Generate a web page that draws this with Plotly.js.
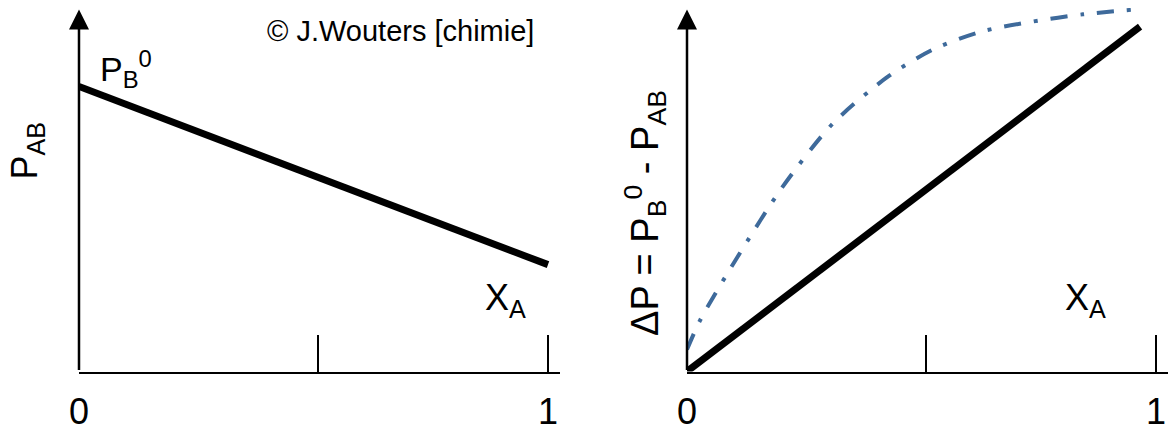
<!DOCTYPE html>
<html>
<head>
<meta charset="utf-8">
<script src="https://cdn.plot.ly/plotly-3.0.1.min.js"></script>
<style>html,body{margin:0;padding:0;background:#fff;}#chart{width:1171px;height:429px;}</style>
</head>
<body>
<div id="chart"></div>
<script>
// Left panel: P_AB vs X_A (straight decreasing line)
const leftX = [0, 1];
const leftY = [1, 0.375];
// Right panel: ΔP vs X_A
const rightLineX = [0, 0.966];
const rightLineY = [0, 1.21];
const curveX = [0, 0.028, 0.107, 0.203, 0.311, 0.429, 0.525, 0.629, 0.738, 0.844, 0.955];
const curveY = [0.077, 0.18, 0.40, 0.646, 0.87, 1.035, 1.13, 1.193, 1.228, 1.253, 1.27];
// Axis ticks
const tickVals = [0, 0.51, 1];
const tickText = ['0', '', '1'];

const FONT = 'Liberation Sans, Arial, sans-serif';
const yTop = 1.2754;

const traces = [
  {x: leftX, y: leftY, xaxis: 'x', yaxis: 'y', mode: 'lines',
   line: {color: '#000', width: 7}, hoverinfo: 'skip'},
  {x: curveX, y: curveY, xaxis: 'x2', yaxis: 'y2', mode: 'lines',
   line: {color: '#3e6a9b', width: 4, dash: '17px,13px,4px,13px', shape: 'spline', smoothing: 0.8}, hoverinfo: 'skip'},
  {x: rightLineX, y: rightLineY, xaxis: 'x2', yaxis: 'y2', mode: 'lines',
   line: {color: '#000', width: 7}, hoverinfo: 'skip'}
];

function xax(domain) {
  return {domain: domain, range: [0, 1.0256], showline: true, linecolor: '#000', linewidth: 2.5,
    showgrid: false, zeroline: false, ticks: 'inside', ticklen: 37, tickwidth: 2, tickcolor: '#000',
    tickmode: 'array', tickvals: tickVals, ticktext: tickText, ticklabelstandoff: 7,
    tickfont: {family: FONT, size: 36, color: '#000'}, fixedrange: true};
}
function yax(anchor) {
  return {domain: [0.134, 0.9814], range: [0, yTop], showline: false, showgrid: false,
    zeroline: false, showticklabels: false, ticks: '', anchor: anchor, fixedrange: true};
}

const layout = {
  width: 1171, height: 429,
  margin: {l: 0, r: 0, t: 0, b: 0},
  paper_bgcolor: '#fff', plot_bgcolor: '#fff',
  showlegend: false,
  xaxis: Object.assign(xax([0.06746, 0.47822]), {anchor: 'y'}),
  yaxis: yax('x'),
  xaxis2: Object.assign(xax([0.58668, 0.99744]), {anchor: 'y2'}),
  yaxis2: yax('x2'),
  annotations: [
    {x: 0, y: yTop - 0.005, ax: 0, ay: 0, xref: 'x', yref: 'y', axref: 'x', ayref: 'y',
     text: '', showarrow: true, arrowhead: 2, arrowsize: 1.6, arrowwidth: 2.5, arrowcolor: '#000'},
    {x: 0, y: yTop - 0.005, ax: 0, ay: 0, xref: 'x2', yref: 'y2', axref: 'x2', ayref: 'y2',
     text: '', showarrow: true, arrowhead: 2, arrowsize: 1.6, arrowwidth: 2.5, arrowcolor: '#000'},
    {xref: 'paper', yref: 'paper', x: 0.3424, y: 0.97, text: '© J.Wouters [chimie]', showarrow: false,
     font: {family: FONT, size: 29, color: '#000'}},
    {xref: 'paper', yref: 'paper', x: 0.0837, y: 0.90, text: 'P<sub>B</sub><sup>0</sup>', showarrow: false,
     font: {family: FONT, size: 34, color: '#000'}},
    {xref: 'paper', yref: 'paper', x: 0.4313, y: 0.2424, text: 'X<sub>A</sub>', showarrow: false,
     font: {family: FONT, size: 36, color: '#000'}},
    {xref: 'paper', yref: 'paper', x: 0.9462, y: 0.2424, text: 'X<sub>A</sub>', showarrow: false,
     font: {family: FONT, size: 36, color: '#000'}},
    {xref: 'paper', yref: 'paper', x: 0.002, y: 0.650, text: 'P<sub>AB</sub>', showarrow: false, textangle: -90,
     font: {family: FONT, size: 36, color: '#000'}},
    {xref: 'paper', yref: 'paper', x: 0.5508, y: 0.5035, text: 'ΔP = P<sub>B</sub><sup>0</sup> - P<sub>AB</sub>',
     showarrow: false, textangle: -90, font: {family: FONT, size: 38, color: '#000'}}
  ]
};

Plotly.newPlot('chart', traces, layout, {staticPlot: true, displayModeBar: false});
</script>
</body>
</html>
